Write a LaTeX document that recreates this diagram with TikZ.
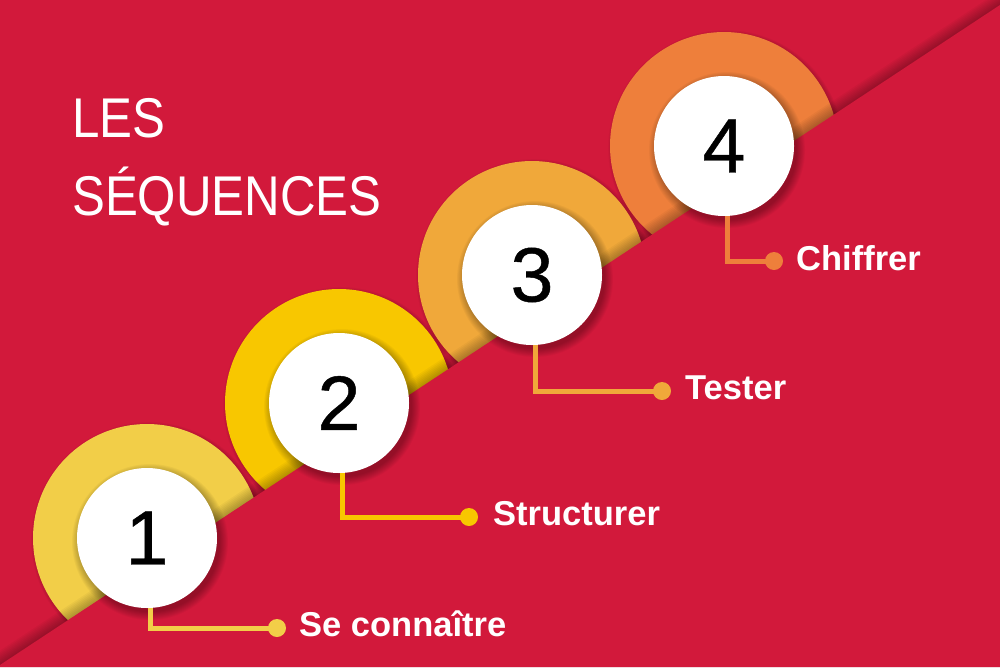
\documentclass[tikz,border=0pt]{standalone}
\usepackage{fontspec}
\setmainfont{Liberation Sans}
\usepackage{graphicx}
\definecolor{bgred}{HTML}{D2193B}
\definecolor{cA}{HTML}{F2CE48}
\definecolor{cB}{HTML}{F8C700}
\definecolor{cC}{HTML}{F0A83A}
\definecolor{cD}{HTML}{EE7F3B}
\begin{document}
\begin{tikzpicture}[x=1pt,y=-1pt,
  ring/.style={circle,minimum size=228pt,inner sep=0pt,fill=#1},
  disc/.style={circle,fill=white,minimum size=140pt,inner sep=0pt,text=black,font=\fontsize{77}{77}\selectfont\addfontfeature{FakeBold=0.6}},
  dotnode/.style={circle,minimum size=18pt,inner sep=0pt,fill=#1},
  conn/.style={line width=5pt,draw=#1},
  lab/.style={anchor=base west,text=white,inner sep=0pt,font=\bfseries\fontsize{34.5}{36}\selectfont},
  ttl/.style={anchor=base west,inner sep=0pt,text=white,font=\fontsize{56}{56}\selectfont},
  shade/.style={fill=black,opacity=0.03}
]
\fill[bgred] (0,0) rectangle (1000,667);
\useasboundingbox (0,0) rectangle (1000,667);

% rings
\foreach \cx/\cy/\col/\nm in {147/538/cA/r1,339/403/cB/r2,532/275/cC/r3,724/146/cD/r4}{
  \foreach \k in {1,...,6}{\fill[shade] ({\cx+2},{\cy+2}) circle ({113pt+\k*0.8pt});}
  \node[ring=\col] (\nm) at (\cx,\cy) {};
}

% lower-right panel with its shadow
\foreach \k in {1,...,8}{
  \fill[fill=black,opacity=0.035] (0,{665-1.8*\k}) -- (1000,{5-1.8*\k}) -- (1000,667) -- (0,667) -- cycle;
}
\fill[bgred] (0,665) -- (1000,5) -- (1000,667) -- (0,667) -- cycle;

% disc shadows
\foreach \cx/\cy in {147/538,339/403,532/275,724/146}{
  \foreach \k in {1,...,10}{\fill[fill=black,opacity=0.03] ({\cx+3},{\cy+4}) circle ({69pt+\k*0.9pt});}
}

% discs
\node[disc] (c1) at (147,538) {1};
\node[disc] (c2) at (339,403) {2};
\node[disc] (c3) at (532,275) {3};
\node[disc] (c4) at (724,146) {4};

% dots
\node[dotnode=cA] (d1) at (277,628) {};
\node[dotnode=cB] (d2) at (469,517) {};
\node[dotnode=cC] (d3) at (662,391) {};
\node[dotnode=cD] (d4) at (774,261) {};

% connectors
\draw[conn=cA] ([xshift=3pt]c1.south) |- (d1.center);
\draw[conn=cB] ([xshift=3pt]c2.south) |- (d2.center);
\draw[conn=cC] ([xshift=3pt]c3.south) |- (d3.center);
\draw[conn=cD] ([xshift=3pt]c4.south) |- (d4.center);

% labels
\node[lab] (l1) at (299,636) {Se connaître};
\node[lab] (l2) at (493,525) {Structurer};
\node[lab] (l3) at (685,399) {Tester};
\node[lab] (l4) at (796,270) {Chiffrer};

% title
\node[ttl] (t1) at (72,137) {\scalebox{0.88}[1]{LES}};
\node[ttl] (t2) at (72,215) {\scalebox{0.88}[1]{SÉQUENCES}};
\end{tikzpicture}
\end{document}
